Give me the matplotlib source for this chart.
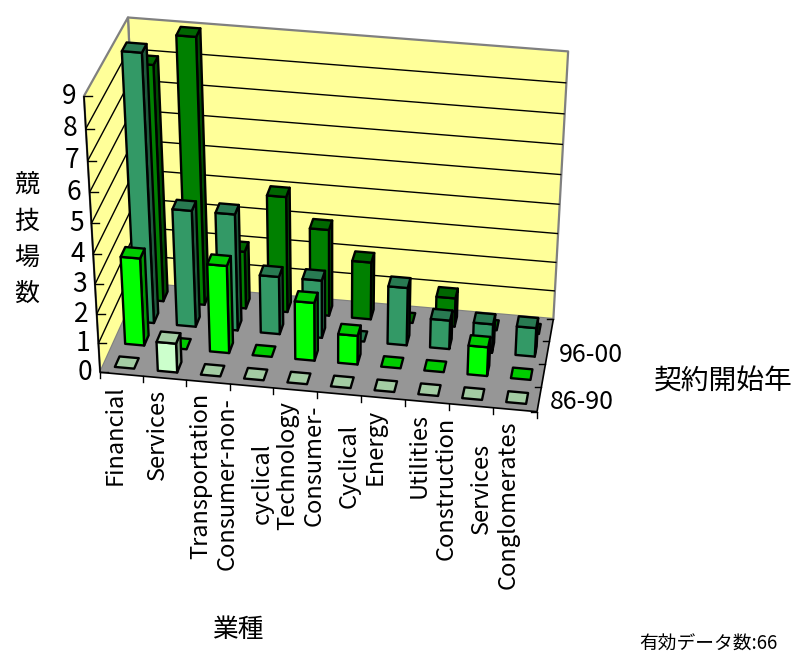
import numpy as np
import matplotlib.pyplot as plt
from matplotlib.patches import Polygon

plt.rcParams['font.family'] = ['Noto Sans CJK JP', 'DejaVu Sans']

# stadium counts by sector and contract start period
categories = ['Financial', 'Services', 'Transportation', 'Consumer-non-\ncyclical',
              'Technology', 'Consumer-\nCyclical', 'Energy', 'Utilities',
              'Construction\nServices', 'Conglomerates']
periods = ['86-90', '91-95', '96-00', '01-05']
period_ticks = ['86-90', '', '96-00', '']      # every other depth label is shown
counts_86_90 = [0, 1, 0, 0, 0, 0, 0, 0, 0, 0]
counts_91_95 = [3, 0, 3, 0, 2, 1, 0, 0, 1, 0]
counts_96_00 = [9, 4, 4, 2, 2, 0, 2, 1, 1, 1]
counts_01_05 = [8, 9, 2, 4, 3, 2, 0, 1, 0, 0]
series = [counts_86_90, counts_91_95, counts_96_00, counts_01_05]
colors = ['#ccffcc', '#00ff00', '#339966', '#008000']
zmax = 9

ncat = len(categories)
nser = len(series)
bw = 0.45      # bar footprint as a fraction of one cell

# corners of the 3-D box and where they land on the canvas (pixels)
frame_world = [(0, 0, 0), (0, 0, zmax), (0, nser, zmax), (ncat, nser, zmax),
               (ncat, nser, 0), (ncat, 0, 0), (0, nser, 0), (5, 0, 0)]
frame_px = [(99, 371), (84, 97), (128, 17), (568, 51),
            (553, 319), (537, 412), (141, 284), (318, 392)]
scale = np.array([ncat, nser, zmax], float)


def fit_camera(world, px):
    # direct linear transform, 3x4 projection matrix
    w = np.asarray(world, float) / scale
    p = np.asarray(px, float) / 100.0
    rows = []
    for (X, Y, Z), (u, v) in zip(w, p):
        rows.append([X, Y, Z, 1, 0, 0, 0, 0, -u*X, -u*Y, -u*Z, -u])
        rows.append([0, 0, 0, 0, X, Y, Z, 1, -v*X, -v*Y, -v*Z, -v])
    _, _, vt = np.linalg.svd(np.array(rows))
    return vt[-1].reshape(3, 4)


P = fit_camera(frame_world, frame_px)
_, _, vt = np.linalg.svd(P)
cam = vt[-1][:3] / vt[-1][3] * scale


def proj(x, y, z):
    h = P @ np.array([x / scale[0], y / scale[1], z / scale[2], 1.0])
    return 100 * h[0] / h[2], 100 * h[1] / h[2]


def shade(c, f):
    c = np.array([int(c[i:i+2], 16) for i in (1, 3, 5)]) / 255.0
    return tuple(c * f)


fig = plt.figure(figsize=(7.98, 6.53), dpi=100)
ax = fig.add_axes([0, 0, 1, 1])
ax.set_xlim(0, 798)
ax.set_ylim(653, 0)
ax.axis('off')

zo = [1]


def face(pts, fc, ec='black', lw=1.7):
    xy = [proj(*p) for p in pts]
    ax.add_patch(Polygon(xy, closed=True, fc=fc, ec=ec, lw=lw, joinstyle='round', zorder=zo[0]))
    zo[0] += 1


def line(p0, p1, color='black', lw=1.0):
    a, b = proj(*p0), proj(*p1)
    ax.plot([a[0], b[0]], [a[1], b[1]], color=color, lw=lw, zorder=zo[0], solid_capstyle='butt')


# walls and floor
wall = '#ffff99'
face([(0, nser, 0), (ncat, nser, 0), (ncat, nser, zmax), (0, nser, zmax)], wall, '#808080', 1.6)
face([(0, 0, 0), (0, nser, 0), (0, nser, zmax), (0, 0, zmax)], wall, '#808080', 1.6)
face([(0, 0, 0), (ncat, 0, 0), (ncat, nser, 0), (0, nser, 0)], '#969696', 'none', 0)
for k in range(1, zmax):
    line((0, 0, k), (0, nser, k))
    line((0, nser, k), (ncat, nser, k))
line((0, 0, 0), (0, 0, zmax), lw=1.2)
line((0, 0, 0), (ncat, 0, 0), lw=1.2)
line((ncat, 0, 0), (ncat, nser, 0), lw=1.2)
zo[0] += 1

# tick marks
for k in range(zmax + 1):
    u, v = proj(0, 0, k)
    ax.plot([u, u + 8], [v, v], color='black', lw=1.0, zorder=zo[0])
    ax.text(u - 8, v, str(k), ha='right', va='center', fontsize=19, zorder=zo[0])
for k in range(ncat + 1):
    u, v = proj(k, 0, 0)
    ax.plot([u, u], [v, v + 6], color='black', lw=1.0, zorder=zo[0])
for k in range(nser + 1):
    u, v = proj(ncat, k, 0)
    ax.plot([u - 6, u], [v, v], color='black', lw=1.0, zorder=zo[0])

# bars, back row first; within a row the column farthest from the eye first
cols = sorted(range(ncat), key=lambda i: -abs(cam[0] - (i + 0.5)))
for j in reversed(range(nser)):
    for i in cols:
        val = series[j][i]
        x0, x1 = i + 0.5 - bw / 2, i + 0.5 + bw / 2
        y0, y1 = j + 0.5 - bw / 2, j + 0.5 + bw / 2
        c = colors[j]
        if val > 0:
            if cam[0] > x1:
                face([(x1, y0, 0), (x1, y1, 0), (x1, y1, val), (x1, y0, val)], shade(c, 0.6))
            if cam[0] < x0:
                face([(x0, y0, 0), (x0, y1, 0), (x0, y1, val), (x0, y0, val)], shade(c, 0.6))
            face([(x0, y0, 0), (x1, y0, 0), (x1, y0, val), (x0, y0, val)], shade(c, 1.0))
        face([(x0, y0, val), (x1, y0, val), (x1, y1, val), (x0, y1, val)], shade(c, 0.8))

# category labels under the front edge
for i, name in enumerate(categories):
    u, v = proj(i + 0.5, 0, 0)
    ax.text(u - 7, v + 11, name, rotation=90, ha='center', va='top',
            multialignment='center', linespacing=1.65, fontsize=17)

# depth labels on the right edge
for j, name in enumerate(period_ticks):
    if name:
        u, v = proj(ncat, j + 0.5, 0)
        ax.text(u + 11, v + 2, name, ha='left', va='center', fontsize=18)

ax.text(27, 240, '\n'.join('競技場数'), ha='center', va='center', fontsize=18, linespacing=1.5)
ax.text(238, 630, '業種', ha='center', va='center', fontsize=18.5)
ax.text(723, 382, '契約開始年', ha='center', va='center', fontsize=20)
total = sum(sum(s) for s in series)
ax.text(777, 644, '有効データ数:%d' % total, ha='right', va='center', fontsize=13.5)

fig.savefig('out.png', dpi=100)
